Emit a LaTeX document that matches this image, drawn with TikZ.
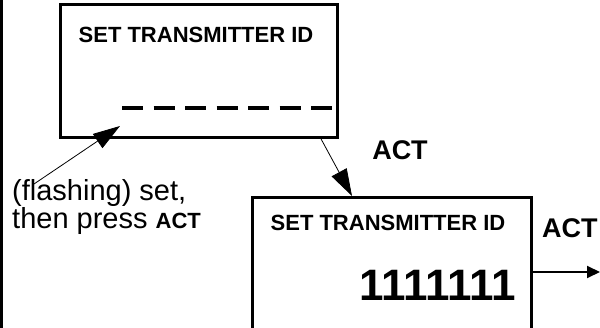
\documentclass[tikz,border=0pt]{standalone}
\usepackage{fontspec}
\setmainfont{Liberation Sans}
\usetikzlibrary{arrows.meta}
\begin{document}
\begin{tikzpicture}[x=1pt,y=-1pt,
  frame/.style={line width=3pt},
  title/.style={font=\fontsize{22}{22}\selectfont\bfseries, inner sep=0pt},
  actlabel/.style={font=\fontsize{27}{27}\selectfont\bfseries, inner sep=0pt},
  digits/.style={font=\fontsize{44}{44}\selectfont\bfseries, inner sep=0pt},
  note/.style={font=\fontsize{29}{26}\selectfont, inner sep=0pt, align=left, anchor=base west},
  bigarrow/.style={line width=0.8pt, -{Triangle[length=27pt,width=17pt]}},
  outarrow/.style={line width=2pt, -{Triangle[length=13pt,width=12pt]}},
  dashline/.style={line width=4pt, dash pattern=on 21pt off 10.5pt}
]
\useasboundingbox (0,0) rectangle (600,328);
\draw[frame] (1,0) -- (1,328);
% box 1
\draw[frame] (60,5) rectangle (337,138);
\node[title] (t1) at (196,35) {SET TRANSMITTER ID};
\coordinate (d1) at (122,108);
\coordinate (d2) at (332,108);
\draw[dashline] (d1) -- (d2);
% box 2
\draw[frame] (252,340) -- (252,198) -- (531,198) -- (531,340);
\node[title] (t2) at (388,223) {SET TRANSMITTER ID};
\node[digits] (num) at (438,285) {1111111};
% labels
\node[note] (n1) at (12,229) {(flashing) set,\\then press {\fontsize{22}{22}\selectfont\bfseries ACT}};
\node[actlabel] (act1) at (400,150) {ACT};
\node[actlabel, anchor=west] (act2) at (542,228) {ACT};
% arrows
\coordinate (a1s) at (34,184);
\coordinate (a1e) at (120,126);
\draw[bigarrow] (a1s) -- (a1e);
\coordinate (a2s) at (320,137);
\coordinate (a2e) at (352,196);
\draw[bigarrow] (a2s) -- (a2e);
\coordinate (a3s) at (531,272);
\coordinate (a3e) at (600,272);
\draw[outarrow] (a3s) -- (a3e);
\end{tikzpicture}
\end{document}
